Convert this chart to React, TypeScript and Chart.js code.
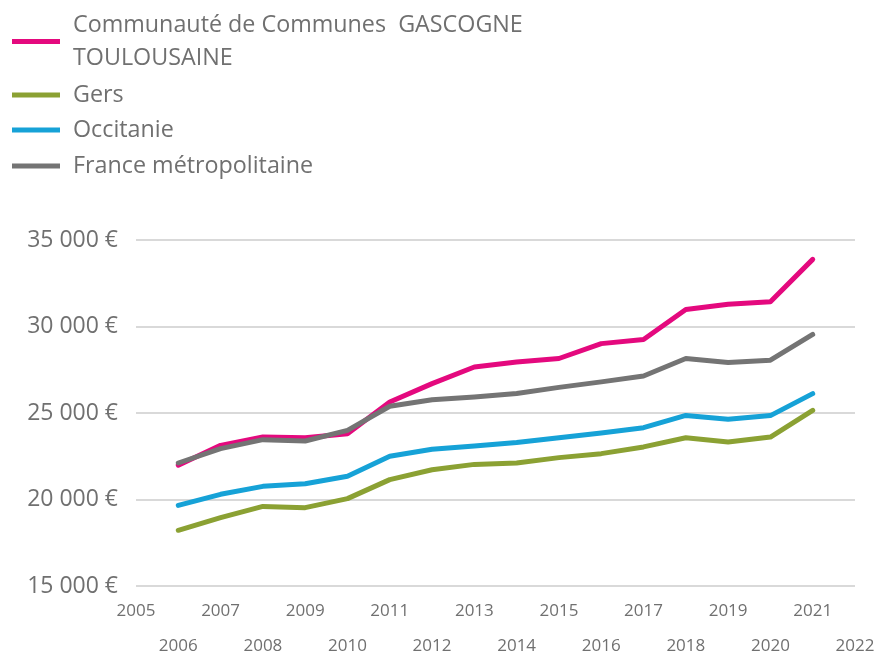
import React, { useEffect, useRef } from "react";
import { Chart, registerables } from "chart.js";

Chart.register(...registerables);

const years = [2006, 2007, 2008, 2009, 2010, 2011, 2012, 2013, 2014, 2015, 2016, 2017, 2018, 2019, 2020, 2021];
const ccGascogne = [21980, 23130, 23610, 23570, 23800, 25640, 26700, 27660, 27950, 28150, 29010, 29250, 30980, 31290, 31430, 33880];
const gers = [18220, 18950, 19600, 19530, 20050, 21150, 21720, 22030, 22110, 22420, 22650, 23040, 23570, 23320, 23610, 25150];
const occitanie = [19660, 20300, 20760, 20910, 21340, 22500, 22900, 23090, 23290, 23570, 23840, 24150, 24860, 24640, 24850, 26120];
const france = [22110, 22940, 23460, 23380, 24000, 25390, 25770, 25930, 26130, 26480, 26800, 27140, 28150, 27920, 28050, 29540];

const seriesNames = ["Communauté de Communes  GASCOGNE TOULOUSAINE", "Gers", "Occitanie", "France métropolitaine"];
const legendLines = [["Communauté de Communes  GASCOGNE", "TOULOUSAINE"], ["Gers"], ["Occitanie"], ["France métropolitaine"]];
const colors = ["#E4097E", "#8BA133", "#16A2D7", "#747474"];

const FONT = "'Open Sans', sans-serif";
const TEXT = "#707070";

const legendPlugin = {
  id: "customLegend",
  afterDraw(chart: any) {
    const ctx = chart.ctx;
    ctx.save();
    ctx.font = `23.3px ${FONT}`;
    ctx.fillStyle = TEXT;
    ctx.textBaseline = "middle";
    ctx.textAlign = "left";
    const rows = [[25, 58], [95], [130], [166]];
    legendLines.forEach((lines, i) => {
      const ys = rows[i];
      const lineY = ys.length > 1 ? (ys[0] + ys[1]) / 2 : ys[0];
      ctx.strokeStyle = colors[i];
      ctx.lineWidth = 5;
      ctx.lineCap = "butt";
      ctx.beginPath();
      ctx.moveTo(12, lineY);
      ctx.lineTo(60, lineY);
      ctx.stroke();
      lines.forEach((t, j) => ctx.fillText(t, 73, ys[j]));
    });
    ctx.restore();
  },
};

export default function App() {
  const ref = useRef<HTMLCanvasElement>(null);
  useEffect(() => {
    if (!ref.current) return;
    const all = [ccGascogne, gers, occitanie, france];
    const chart = new Chart(ref.current, {
      type: "line",
      data: {
        datasets: all.map((vals, i) => ({
          label: seriesNames[i],
          data: years.map((y, k) => ({ x: y, y: vals[k] })),
          borderColor: colors[i],
          backgroundColor: colors[i],
          borderWidth: 5,
          pointRadius: 0,
          borderCapStyle: "round" as const,
          borderJoinStyle: "round" as const,
          tension: 0,
          order: 4 - i,
        })),
      },
      options: {
        responsive: false,
        animation: false,
        layout: { padding: { top: 240, right: 22, left: 0, bottom: 0 } },
        plugins: { legend: { display: false }, tooltip: { enabled: false } },
        scales: {
          x: {
            type: "linear",
            min: 2005,
            max: 2022,
            grid: { display: false, drawTicks: false },
            border: { display: false },
            afterFit: (s: any) => { s.height = 69; s.paddingLeft = 0; s.paddingRight = 0; },
            ticks: {
              stepSize: 1,
              autoSkip: false,
              maxRotation: 0,
              padding: 7.5,
              color: TEXT,
              font: { family: FONT, size: 17, lineHeight: "35px" },
              callback: (v: any) => (Number(v) % 2 === 1 ? [String(v)] : ["", String(v)]),
            },
          },
          y: {
            min: 15000,
            max: 35000,
            grid: { color: "#d9d9d9", lineWidth: 2, drawTicks: false },
            border: { display: false },
            afterFit: (s: any) => { s.width = 136; },
            ticks: {
              stepSize: 5000,
              padding: 18,
              color: TEXT,
              font: { family: FONT, size: 23 },
              callback: (v: any) => `${Math.round(Number(v) / 1000)} 000 €`,
            },
          },
        },
      },
      plugins: [legendPlugin],
    });
    return () => chart.destroy();
  }, []);
  return (
    <div style={{ position: "absolute", left: 0, top: 0, width: 877, height: 655, background: "#fff" }}>
      <canvas ref={ref} width={877} height={655} />
    </div>
  );
}
